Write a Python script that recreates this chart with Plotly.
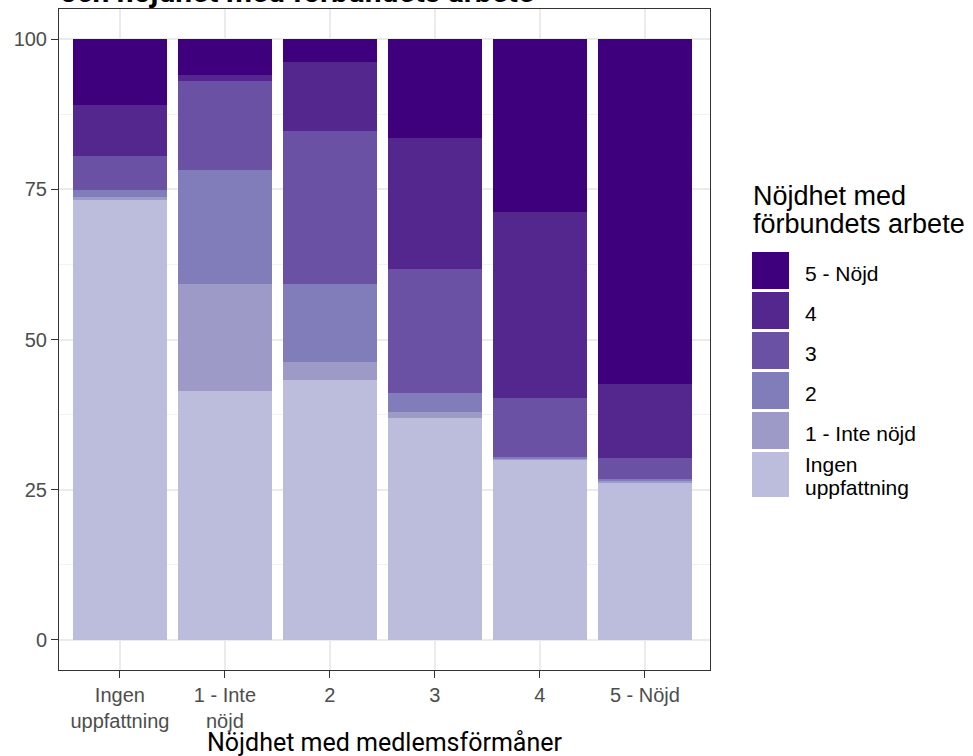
import plotly.graph_objects as go

# Categories (x axis): satisfaction with member benefits
categories = ["Ingen<br>uppfattning", "1 - Inte<br>nöjd", "2", "3", "4", "5 - Nöjd"]

# Series (stack levels): satisfaction with union's work, bottom to top
series_names = ["Ingen uppfattning", "1 - Inte nöjd", "2", "3", "4", "5 - Nöjd"]
legend_labels = ["Ingen<br>uppfattning", "1 - Inte nöjd", "2", "3", "4", "5 - Nöjd"]

ingen = [73.2, 41.5, 43.2, 36.9, 30.0, 26.1]
niva1 = [0.5, 17.8, 3.0, 1.0, 0.2, 0.4]
niva2 = [1.1, 18.9, 13.0, 3.2, 0.2, 0.3]
niva3 = [5.7, 14.8, 25.5, 20.7, 9.8, 3.5]
niva4 = [8.5, 1.0, 11.4, 21.8, 31.0, 12.3]
niva5 = [11.0, 6.0, 3.9, 16.4, 28.8, 57.4]
values = [ingen, niva1, niva2, niva3, niva4, niva5]

colors = ["#bcbddc", "#9e9ac8", "#807dba", "#6a51a3", "#54278f", "#3f007d"]

y_ticks = [0, 25, 50, 75, 100]

title_text = "och nöjdhet med förbundets arbete"
x_title = "Nöjdhet med medlemsförmåner"
legend_title = ["Nöjdhet med", "förbundets arbete"]

fig = go.Figure()
for name, vals, col in zip(series_names, values, colors):
    fig.add_trace(go.Bar(
        x=categories, y=vals, name=name, width=0.9,
        marker=dict(color=col, line=dict(width=0)),
        showlegend=False,
    ))

W, H = 973, 756
ML, MR, MT, MB = 59, 263, 9, 86
PW = W - ML - MR
PH = H - MT - MB


def px(x):
    return (x - ML) / PW


def py(y):
    return (H - MB - y) / PH


fig.update_layout(
    width=W, height=H,
    barmode="stack",
    bargap=0.1,
    plot_bgcolor="white", paper_bgcolor="white",
    margin=dict(l=ML, r=MR, t=MT, b=MB, pad=0, autoexpand=False),
    font=dict(family="Liberation Sans, Arial, sans-serif", color="#4d4d4d"),
)
fig.update_xaxes(
    type="category", range=[-0.58, 5.62], automargin=False,
    showgrid=True, gridcolor="#ebebeb", gridwidth=1.5,
    showline=True, mirror=True, linecolor="#333333", linewidth=1,
    ticks="outside", ticklen=7, tickcolor="#333333", tickwidth=1,
    tickfont=dict(size=20, color="#4d4d4d"),
    zeroline=False,
)
fig.update_yaxes(
    range=[-5, 105], tickvals=y_ticks, automargin=False,
    showgrid=True, gridcolor="#ebebeb", gridwidth=1.5,
    minor=dict(showgrid=True, gridcolor="#f2f2f2", gridwidth=0.8, dtick=12.5, tick0=12.5),
    showline=True, mirror=True, linecolor="#333333", linewidth=1,
    ticks="outside", ticklen=7, tickcolor="#333333", tickwidth=1,
    tickfont=dict(size=20, color="#4d4d4d"),
    zeroline=False,
)

annotations = []
# Clipped title at top
annotations.append(dict(
    text="<b>" + title_text + "</b>", x=px(58), y=1, xref="paper", yref="paper",
    xanchor="left", yanchor="bottom", yshift=-2, showarrow=False,
    font=dict(family="Roboto", size=30, color="black"),
))
# X axis title
annotations.append(dict(
    text=x_title, x=0.5, y=py(742), xref="paper", yref="paper",
    xanchor="center", yanchor="middle", showarrow=False,
    font=dict(family="Roboto", size=25, color="black"),
))
# Legend title
for i, line in enumerate(legend_title):
    annotations.append(dict(
        text=line, x=px(751), y=py(196 + 28 * i), xref="paper", yref="paper",
        xanchor="left", yanchor="middle", showarrow=False,
        font=dict(family="Liberation Sans", size=27, color="black"),
    ))

shapes = []
# Manual legend keys (top: 5 - Nöjd, bottom: Ingen uppfattning)
order = list(range(len(series_names)))[::-1]
for k, idx in enumerate(order):
    top = 252 + 40 * k
    bottom = top + (45 if idx == 0 else 37)
    shapes.append(dict(
        type="rect", xref="paper", yref="paper",
        x0=px(752), x1=px(789), y0=py(bottom), y1=py(top),
        fillcolor=colors[idx], line=dict(width=0),
    ))
    if idx == 0:
        parts = legend_labels[idx].split("<br>")
        for j, part in enumerate(parts):
            annotations.append(dict(
                text=part, x=px(803), y=py(464 + 23 * j), xref="paper", yref="paper",
                xanchor="left", yanchor="middle", showarrow=False,
                font=dict(family="Liberation Sans", size=21, color="black"),
            ))
    else:
        annotations.append(dict(
            text=legend_labels[idx], x=px(803), y=py(top + 21.5), xref="paper", yref="paper",
            xanchor="left", yanchor="middle", showarrow=False,
            font=dict(family="Liberation Sans", size=21, color="black"),
        ))

fig.update_layout(annotations=annotations, shapes=shapes)

fig.write_html(
    "out.html",
    config={"displayModeBar": False},
    post_script="document.body.style.margin='0';document.body.style.overflow='hidden';",
)
